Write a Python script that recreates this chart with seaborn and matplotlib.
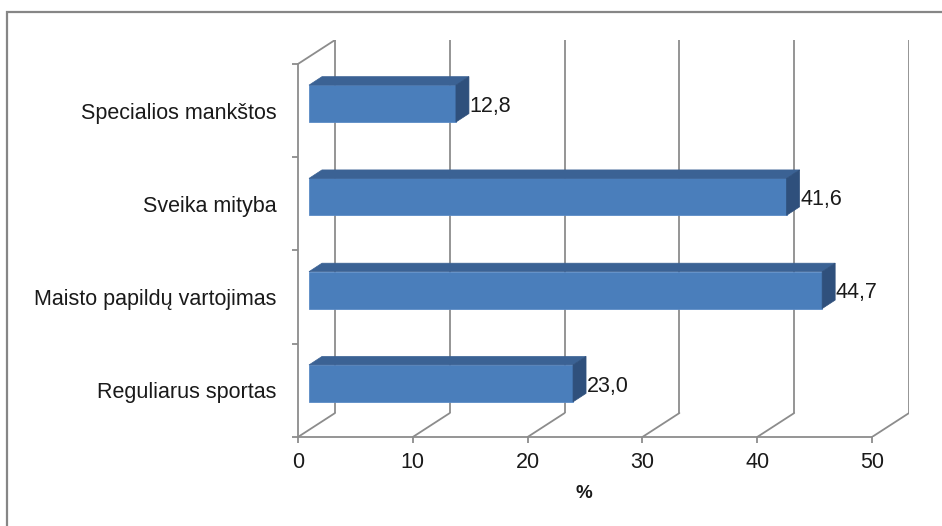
import matplotlib
matplotlib.use("Agg")
import matplotlib.pyplot as plt
from matplotlib.patches import Polygon, Rectangle
import seaborn as sns
import pandas as pd

categories = ["Specialios mankštos", "Sveika mityba",
              "Maisto papildų vartojimas", "Reguliarus sportas"]
values = [12.8, 41.6, 44.7, 23.0]
x_ticks = [0, 10, 20, 30, 40, 50]
x_label = "%"

df = pd.DataFrame({"kategorija": categories, "procentai": values})

sns.set_theme(style="white")
plt.rcParams["font.family"] = ["Liberation Sans", "DejaVu Sans"]

W, H, DPI = 942, 526, 100
fig = plt.figure(figsize=(W / DPI, H / DPI), dpi=DPI)

# plot area: front plane 0..50 spans px 298..872, category band px 63..437
PX_X = (872 - 298) / 50.0
PX_Y = (437 - 63) / 4.0
DEPTH_PX = (37, 24)                     # wall depth (right, up) in pixels
DX = DEPTH_PX[0] / PX_X
DY = -DEPTH_PX[1] / PX_Y                # y axis is inverted: up = smaller
x_max = 50 + DX
y_top = -0.5 + DY

ax = fig.add_axes([298 / W, 1 - 437 / H, (50 * PX_X + DEPTH_PX[0]) / W,
                   (437 - 40) / H])
ax.set_facecolor("none")

GRID = "#8C8C8C"
FRONT = "#4A7EBB"
TOP = "#3B6294"
SIDE = "#2F507C"
TEXT = "#1a1a1a"
FS = 15.5

sns.barplot(data=df, x="procentai", y="kategorija", orient="h",
            color=FRONT, width=37 / PX_Y, saturation=1, ax=ax,
            edgecolor="#5B8BC6", linewidth=0.6, zorder=3)

ax.set_xlim(0, x_max)
ax.set_ylim(3.5, y_top)

# back wall gridlines and floor diagonals
for t in x_ticks:
    ax.plot([t + DX, t + DX], [3.5 + DY, -0.5 + DY], color=GRID, lw=1.3,
            zorder=1, solid_capstyle="butt")
    ax.plot([t, t + DX], [3.5, 3.5 + DY], color=GRID, lw=1.3, zorder=1)
# left wall top edge
ax.plot([0, DX], [-0.5, -0.5 + DY], color=GRID, lw=1.3, zorder=1)

# 3D bar faces, placed partway into the depth
fx, fy = 11 / PX_X, -7 / PX_Y
bx, by = 13 / PX_X, -8.5 / PX_Y
for p, v in zip(ax.patches, values):
    p.set_x(p.get_x() + fx)
    p.set_y(p.get_y() + fy)
    x0, x1 = p.get_x(), p.get_x() + p.get_width()
    y0, y1 = p.get_y(), p.get_y() + p.get_height()
    ax.add_patch(Polygon([(x0, y0), (x1, y0), (x1 + bx, y0 + by), (x0 + bx, y0 + by)],
                         closed=True, facecolor=TOP, edgecolor=TOP, lw=0.5, zorder=3))
    ax.add_patch(Polygon([(x1, y0), (x1 + bx, y0 + by), (x1 + bx, y1 + by), (x1, y1)],
                         closed=True, facecolor=SIDE, edgecolor=SIDE, lw=0.5, zorder=3))
    ax.text(x1 + bx + 0.05, (y0 + y1) / 2 + 0.03, f"{v:.1f}".replace(".", ","),
            ha="left", va="center", fontsize=FS, color=TEXT, zorder=4)

# front axes
for side in ["top", "right"]:
    ax.spines[side].set_visible(False)
ax.spines["bottom"].set_bounds(0, 50)
ax.spines["left"].set_bounds(3.5, -0.5)
for side in ["bottom", "left"]:
    ax.spines[side].set_color(GRID)
    ax.spines[side].set_linewidth(1.3)

ax.set_xticks(x_ticks)
ax.set_xticklabels([str(t) for t in x_ticks])
ax.tick_params(axis="x", length=4, width=1.3, color=GRID, pad=7,
               labelsize=FS, labelcolor=TEXT, bottom=True)
ax.set_yticks(range(len(categories)))
ax.set_yticklabels(categories)
ax.set_yticks([i - 0.5 for i in range(len(categories) + 1)], minor=True)
ax.tick_params(axis="y", which="major", length=0, pad=15.5,
               labelsize=FS, labelcolor=TEXT)
ax.tick_params(axis="y", which="minor", length=4, width=1.3, color=GRID, left=True)
ax.set_xlabel("")
ax.set_ylabel("")
ax.grid(False)

fig.text(584 / W, 1 - 494 / H, x_label, ha="center", va="center",
         fontsize=13.5, fontweight="bold", color=TEXT)

# chart area border
fig.patches.append(Rectangle((7 / W, -0.05), 1.0, 1 - 12 / H + 0.05,
                             transform=fig.transFigure, fill=False,
                             edgecolor="#868686", lw=1.6, zorder=0))

fig.savefig("out.png", dpi=DPI)
